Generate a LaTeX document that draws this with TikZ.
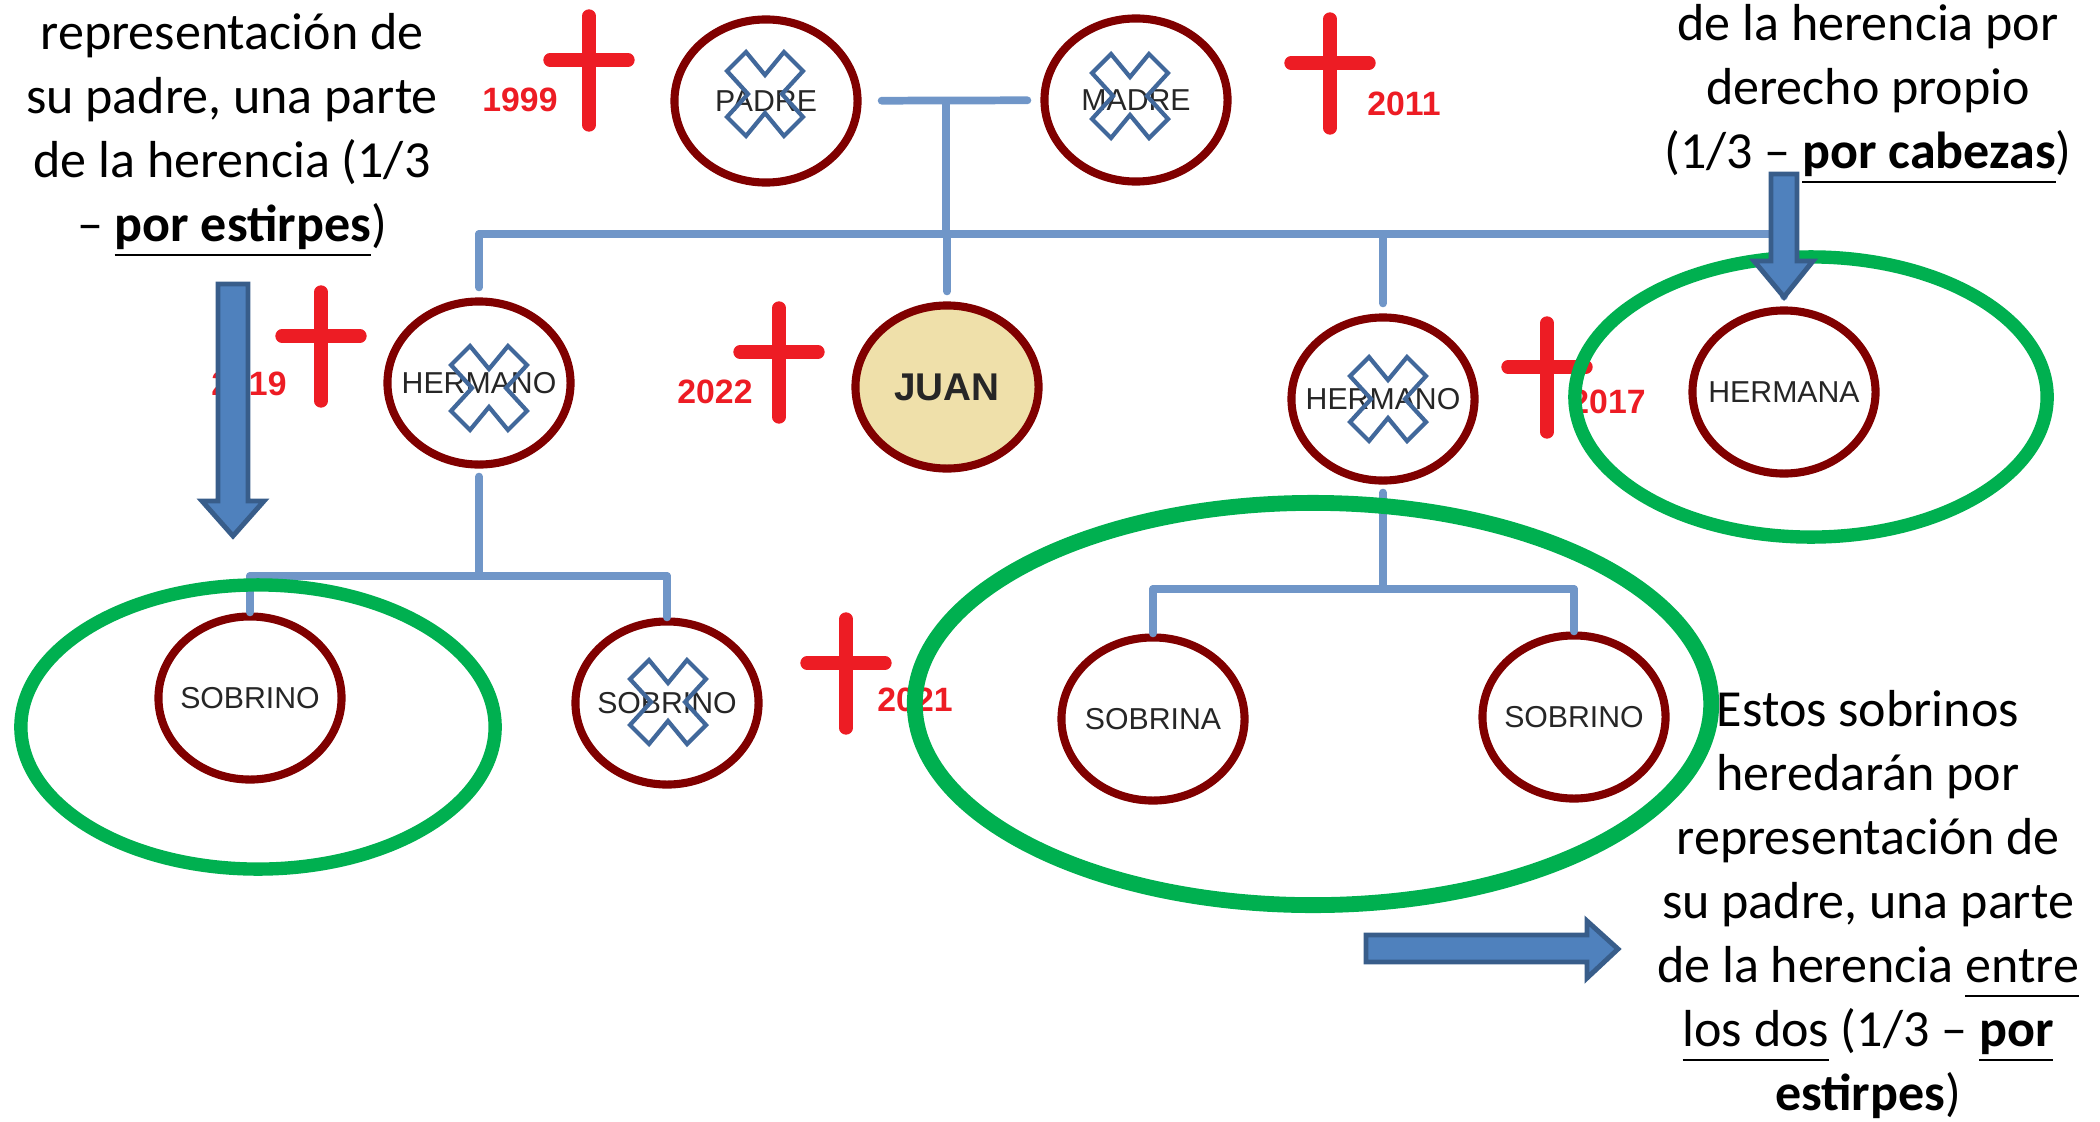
\documentclass[tikz,border=0pt]{standalone}
\usepackage{fontspec}
\setmainfont{Carlito}
\newfontfamily\arialfont{Liberation Sans}
\usetikzlibrary{positioning,shapes.geometric,calc}
\definecolor{darkred}{HTML}{800000}
\definecolor{crossred}{HTML}{ED1C24}
\definecolor{linkblue}{HTML}{7096C8}
\definecolor{arrowblue}{HTML}{4F81BD}
\definecolor{arrowedge}{HTML}{385D8A}
\definecolor{markblue}{HTML}{41689B}
\definecolor{okgreen}{HTML}{00B050}
\definecolor{juanfill}{HTML}{EFE0AA}
\newcommand\subr[1]{\underline{#1\vphantom{p}}}

\tikzset{
  person/.style={ellipse, draw=darkred, line width=2.3pt, fill=white,
    minimum width=1.83cm, minimum height=1.63cm, inner sep=0pt, inner xsep=-0.3cm,
    font=\arialfont\fontsize{8.6}{10}\selectfont, text=black!85},
  link/.style={linkblue, line width=2.2pt, line cap=round},
  year/.style={text=crossred, inner sep=0pt,
    font=\arialfont\bfseries\fontsize{9.6}{11}\selectfont},
  cruz/.style={crossred, line width=3.8pt, line cap=round},
  marca/.style={markblue, line width=1.2pt},
  ring/.style={okgreen, line width=3.8pt},
  flecha/.style={fill=arrowblue, draw=arrowedge, line width=1.4pt},
  nota/.style={align=center, inner sep=0pt, anchor=north,
    font=\fontsize{14.8}{18.2}\selectfont}
}

\begin{document}
\begin{tikzpicture}[x=0.01cm, y=-0.01cm]
  \useasboundingbox (0,0) rectangle (2100,1121);

  % persons
  \node[person] (padre) at (766,101) {PADRE};
  \node[person] (madre) at (1136,100) {MADRE};
  \node[person] (hermanoa) at (479,383) {HERMANO};
  \node[person, fill=juanfill, font=\arialfont\bfseries\fontsize{11}{13}\selectfont] (juan) at (947,387) {JUAN};
  \node[person] (hermanob) at (1383,399) {HERMANO};
  \node[person] (hermana) at (1784,392) {HERMANA};
  \node[person] (sobrinoa) at (250,698) {SOBRINO};
  \node[person] (sobrinob) at (667,703) {SOBRINO};
  \node[person] (sobrina) at (1153,719) {SOBRINA};
  \node[person] (sobrinoc) at (1574,717) {SOBRINO};

  % tree
  \coordinate (pm) at (946,103);
  \coordinate (hbar) at (946,234);
  \coordinate (kbara) at (0,576);
  \coordinate (kbarb) at (0,589);
  \draw[link, shorten <=0.2cm, shorten >=0.13cm] (padre) -- (madre);
  \draw[link] (pm) -- (hbar);
  \draw[link] (hermanoa |- hbar) -- (hermana |- hbar);
  \foreach \n in {hermanoa,juan,hermanob,hermana}
    \draw[link, shorten >=0.1cm] (\n |- hbar) -- (\n);
  \draw[link, shorten <=0.08cm] (hermanoa) -- (hermanoa |- kbara);
  \draw[link] (sobrinoa |- kbara) -- (sobrinob |- kbara);
  \foreach \n in {sobrinoa,sobrinob}
    \draw[link] (\n |- kbara) -- (\n);
  \draw[link, shorten <=0.08cm] (hermanob) -- (hermanob |- kbarb);
  \draw[link] (sobrina |- kbarb) -- (sobrinoc |- kbarb);
  \foreach \n in {sobrina,sobrinoc}
    \draw[link] (\n |- kbarb) -- (\n);

  % crosses and years
  \foreach \cx/\cy in {589/16, 1330/19, 321/292, 779/308, 1547/323, 846/619}
  {
    \draw[cruz] (\cx,\cy) -- (\cx,\cy+109);
    \draw[cruz] (\cx-39,\cy+44) -- (\cx+39,\cy+44);
  }
  \node[year] (a1999) at (520,100) {1999};
  \node[year] (a2011) at (1404,104) {2011};
  \node[year] (a2019) at (249,384) {2019};
  \node[year] (a2022) at (715,392) {2022};
  \node[year] (a2017) at (1608,402) {2017};
  \node[year] (a2021) at (915,700) {2021};

  % x marks
  \foreach \p/\dx/\dy in {padre/-1/-7, madre/-6/-4, hermanoa/10/5, hermanob/5/0, sobrinob/1/-1}
  {
    \begin{scope}[shift={($(\p)+(\dx,\dy)$)}]
      \draw[marca] (0,-19) -- (19,-42) -- (38,-23) -- (17,0) -- (38,23) -- (19,42)
        -- (0,19) -- (-19,42) -- (-38,23) -- (-17,0) -- (-38,-23) -- (-19,-42) -- cycle;
    \end{scope}
  }

  % green rings
  \draw[ring] (1811,397) ellipse [x radius=2.36cm, y radius=1.40cm];
  \draw[ring] (258,727) ellipse [x radius=2.37cm, y radius=1.42cm];
  \draw[ring, line width=4.5pt] (1313,704) ellipse [x radius=3.98cm, y radius=2.01cm];

  % block arrows
  \draw[flecha] (218,284) -- (248,284) -- (248,501) -- (264,501) -- (233,536)
    -- (202,501) -- (218,501) -- cycle;
  \draw[flecha] (1771,174) -- (1797,174) -- (1797,261) -- (1813,261) -- (1784,297)
    -- (1754,261) -- (1771,261) -- cycle;
  \draw[flecha] (1366,935) -- (1587,935) -- (1587,921) -- (1618,949) -- (1587,978)
    -- (1587,962) -- (1366,962) -- cycle;

  % notes
  \node[nota] (notaizq) at (232,13) {representación de\\su padre, una parte\\de la herencia (1/3\\– \subr{\textbf{por estirpes}})};
  \node[nota] (notader) at (1868,4) {de la herencia por\\derecho propio\\(1/3 – \subr{\textbf{por cabezas}})};
  \node[nota] (notabaja) at (1868,690) {Estos sobrinos\\heredarán por\\representación de\\su padre, una parte\\de la herencia \subr{entre}\\\subr{los dos} (1/3 – \subr{\textbf{por}}\\\subr{\textbf{estirpes}})};
\end{tikzpicture}
\end{document}
